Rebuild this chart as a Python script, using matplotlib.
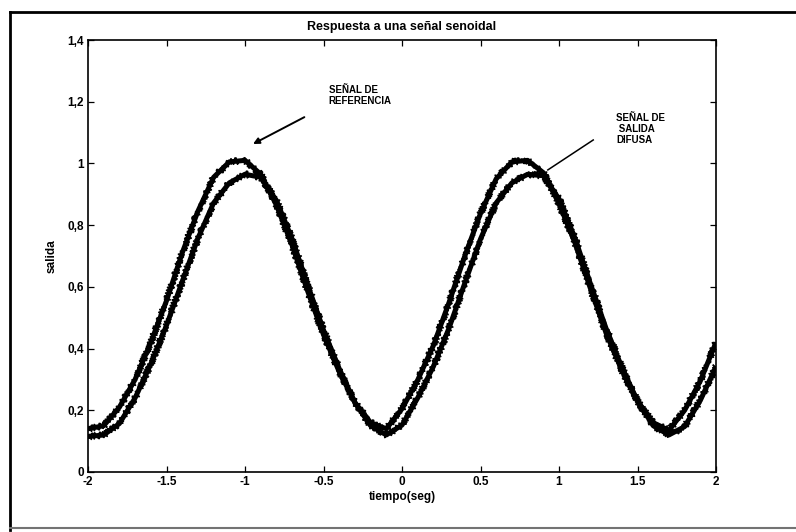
import matplotlib
matplotlib.use("Agg")
import matplotlib.pyplot as plt
from matplotlib.lines import Line2D

plt.rcParams['font.family'] = ['Liberation Sans', 'DejaVu Sans']

# tiempo (seg), paso 0.1
tiempo = [-2.0, -1.9, -1.8, -1.7, -1.6, -1.5, -1.4, -1.3, -1.2, -1.1,
          -1.0, -0.9, -0.8, -0.7, -0.6, -0.5, -0.4, -0.3, -0.2, -0.1,
          0.0, 0.1, 0.2, 0.3, 0.4, 0.5, 0.6, 0.7, 0.8, 0.9,
          1.0, 1.1, 1.2, 1.3, 1.4, 1.5, 1.6, 1.7, 1.8, 1.9, 2.0]

# señal de referencia
referencia = [0.14, 0.15, 0.21, 0.30, 0.42, 0.555, 0.71, 0.845, 0.955, 1.005,
              1.01, 0.965, 0.865, 0.735, 0.585, 0.445, 0.325, 0.225, 0.16, 0.14,
              0.205, 0.298, 0.41, 0.55, 0.70, 0.838, 0.95, 1.005, 1.01, 0.97,
              0.87, 0.745, 0.595, 0.45, 0.33, 0.23, 0.16, 0.135, 0.20, 0.295, 0.42]

# señal de salida difusa
salida = [0.115, 0.12, 0.157, 0.24, 0.35, 0.475, 0.617, 0.757, 0.872, 0.937,
          0.965, 0.955, 0.88, 0.755, 0.605, 0.46, 0.335, 0.225, 0.15, 0.12,
          0.152, 0.24, 0.342, 0.467, 0.612, 0.755, 0.872, 0.937, 0.965, 0.96,
          0.885, 0.76, 0.61, 0.465, 0.34, 0.23, 0.15, 0.12, 0.147, 0.232, 0.342]

xticks = [-2, -1.5, -1, -0.5, 0, 0.5, 1, 1.5, 2]
xlabels = ["-2", "-1.5", "-1", "-0.5", "0", "0.5", "1", "1.5", "2"]
yticks = [0, 0.2, 0.4, 0.6, 0.8, 1.0, 1.2, 1.4]
ylabels = ["0", "0,2", "0,4", "0,6", "0,8", "1", "1,2", "1,4"]

fig = plt.figure(figsize=(7.96, 5.32), dpi=100)
ax = fig.add_axes([88 / 796, 60 / 532, 628 / 796, 432 / 532])

for serie in (referencia, salida):
    ax.plot(tiempo, serie, color='black', lw=3.6, solid_capstyle='butt')
    # borde ruidoso de la traza
    fz, = ax.plot(tiempo, serie, color='black', lw=1.3)
    fz.set_sketch_params(scale=3.2, length=1.2, randomness=2)

ax.set_xlim(-2, 2)
ax.set_ylim(0, 1.4)
ax.set_xticks(xticks)
ax.set_xticklabels(xlabels)
ax.set_yticks(yticks)
ax.set_yticklabels(ylabels)
ax.tick_params(direction='in', top=True, right=True, length=4, width=0.9,
               labelsize=8.5, pad=3)
for lab in ax.get_xticklabels() + ax.get_yticklabels():
    lab.set_fontweight('bold')
for sp in ax.spines.values():
    sp.set_linewidth(1.2)

ax.set_title("Respuesta a una señal senoidal", fontsize=9, fontweight='bold', pad=7)
ax.set_xlabel("tiempo(seg)", fontsize=8.5, fontweight='bold')
ax.set_ylabel("salida", fontsize=8.5, fontweight='bold')
ax.xaxis.set_label_coords(0.5, -0.044)
ax.yaxis.set_label_coords(-0.049, 0.5)

ax.text(-0.468, 1.254, "SEÑAL DE\nREFERENCIA", fontsize=7, fontweight='bold',
        ha='left', va='top', linespacing=1.1)
ax.annotate("", xy=(-0.949, 1.063), xytext=(-0.622, 1.150),
            arrowprops=dict(arrowstyle='-|>', color='black', lw=1.4,
                            shrinkA=0, shrinkB=0, mutation_scale=9))
ax.text(1.365, 1.163, "SEÑAL DE\n SALIDA\nDIFUSA", fontsize=7, fontweight='bold',
        ha='left', va='top', linespacing=1.1)
ax.plot([1.218, 0.929], [1.076, 0.979], color='black', lw=1.1)

# marco exterior
fig.add_artist(Line2D([10 / 796, 1.0], [1 - 12 / 532, 1 - 12 / 532],
                      transform=fig.transFigure, color='black', lw=2))
fig.add_artist(Line2D([10 / 796, 10 / 796], [1 - 12 / 532, 1 - 530 / 532],
                      transform=fig.transFigure, color='black', lw=2))
fig.add_artist(Line2D([10 / 796, 1.0], [1 - 528 / 532, 1 - 528 / 532],
                      transform=fig.transFigure, color='0.45', lw=1.5))

fig.savefig("out.png", dpi=100)
